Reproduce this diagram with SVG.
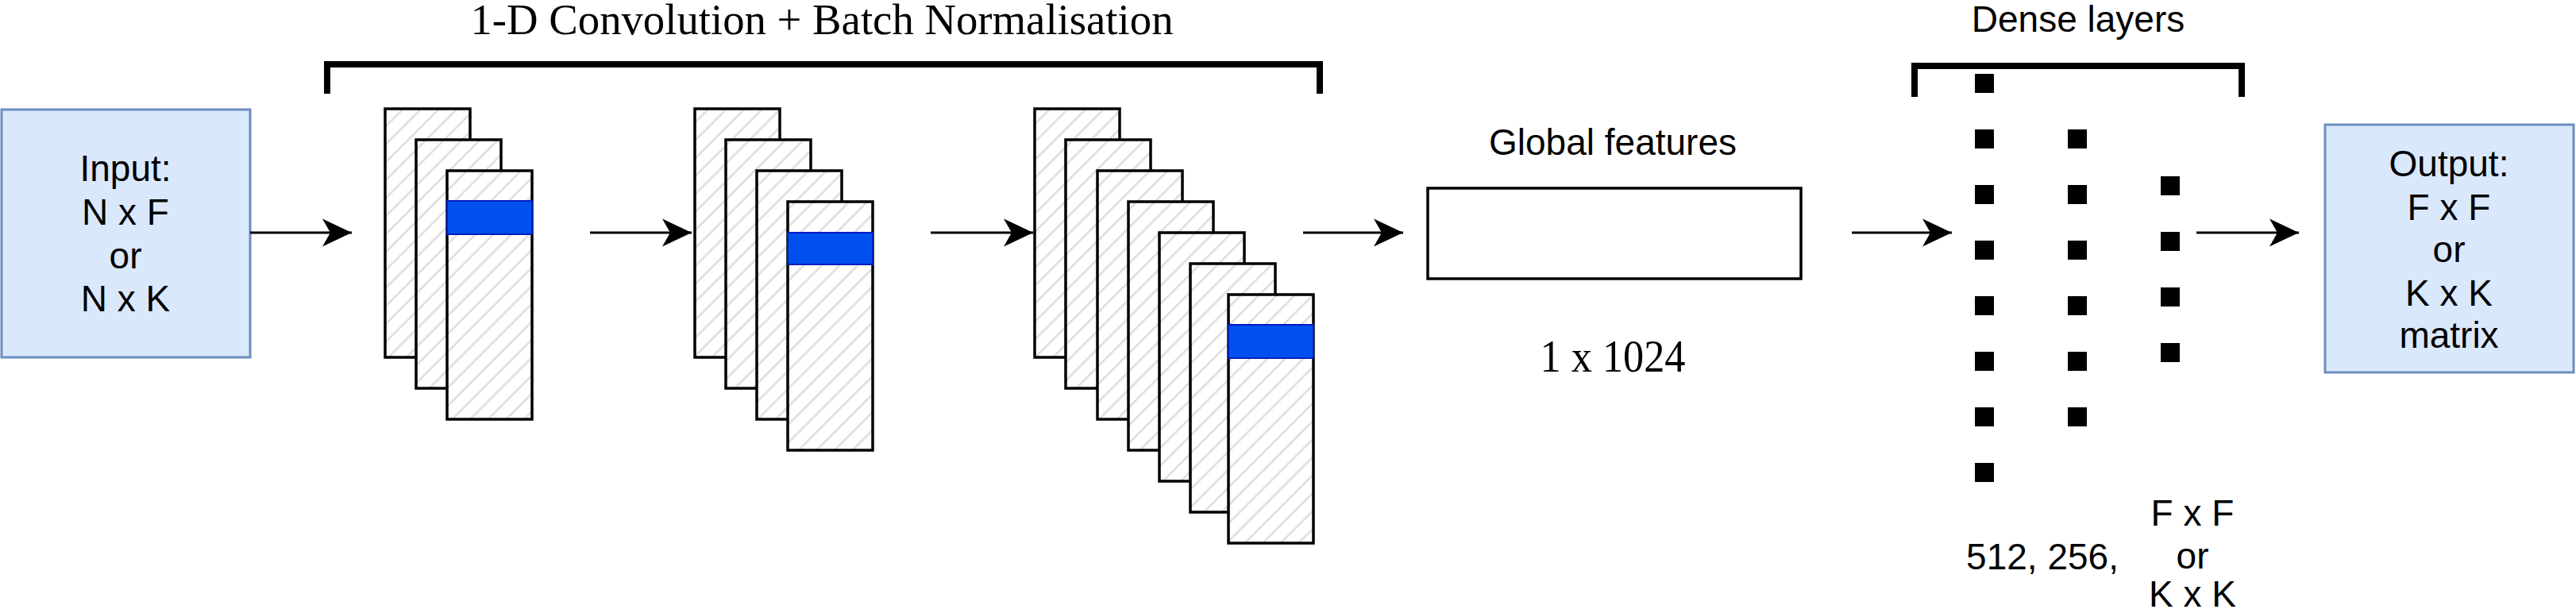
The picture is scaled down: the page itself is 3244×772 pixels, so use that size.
<svg xmlns="http://www.w3.org/2000/svg" width="3244" height="772" viewBox="0 0 3244 772">
<defs>
<style>
.t{font-family:"Liberation Sans",Arial,Helvetica,sans-serif;font-size:46px;fill:#000;text-anchor:middle}
.s{font-family:"Liberation Serif","Times New Roman",serif;fill:#000;text-anchor:middle}
.fm{fill:url(#hatch);stroke:#000;stroke-width:3.5}
.band{fill:#0050ef;stroke:#001DBC;stroke-width:2}
.io{fill:#dae8fc;stroke:#6c8ebf;stroke-width:3}
.box{fill:#fff;stroke:#000;stroke-width:3.5}
.conn{stroke:#000;stroke-width:3;fill:none;marker-end:url(#arrow)}
.br{fill:none;stroke:#000;stroke-width:8}
.dot{fill:#000}
</style>
<pattern id="hatch" width="16" height="16" patternUnits="userSpaceOnUse" patternTransform="rotate(45)">
<rect width="16" height="16" fill="#fff"/>
<line x1="8" y1="0" x2="8" y2="16" stroke="#dcdcdc" stroke-width="2.5"/>
</pattern>
<marker id="arrow" markerUnits="userSpaceOnUse" markerWidth="38" markerHeight="36" refX="37" refY="18" orient="auto" viewBox="0 0 38 36">
<path d="M37 18 L0 0.5 L10 18 L0 35.5 Z" fill="#000"/>
</marker>
</defs>
<rect width="3244" height="772" fill="#fff"/>

<g id="input">
<rect class="io" x="2" y="138" width="313" height="312"/>
<text class="t" x="158" y="228">Input:</text>
<text class="t" x="158" y="283">N x F</text>
<text class="t" x="158" y="338">or</text>
<text class="t" x="158" y="392">N x K</text>
</g>

<g id="conv-title">
<text class="s" x="1035" y="43" font-size="55" textLength="885" lengthAdjust="spacingAndGlyphs">1-D Convolution + Batch Normalisation</text>
<path class="br" d="M412 118 V81 H1662 V118"/>
</g>

<g id="conv-block-1">
<rect class="fm" x="485" y="137" width="107" height="313"/>
<rect class="fm" x="524" y="176" width="107" height="313"/>
<rect class="fm" x="563" y="215" width="107" height="313"/>
<rect class="band" x="563" y="253" width="107" height="42"/>
</g>

<g id="conv-block-2">
<rect class="fm" x="875" y="137" width="107" height="313"/>
<rect class="fm" x="914" y="176" width="107" height="313"/>
<rect class="fm" x="953" y="215" width="107" height="313"/>
<rect class="fm" x="992" y="254" width="107" height="313"/>
<rect class="band" x="992" y="293" width="107" height="40"/>
</g>

<g id="conv-block-3">
<rect class="fm" x="1303" y="137" width="107" height="313"/>
<rect class="fm" x="1342" y="176" width="107" height="313"/>
<rect class="fm" x="1382" y="215" width="107" height="313"/>
<rect class="fm" x="1421" y="254" width="107" height="313"/>
<rect class="fm" x="1460" y="293" width="107" height="313"/>
<rect class="fm" x="1499" y="332" width="107" height="313"/>
<rect class="fm" x="1547" y="371" width="107" height="313"/>
<rect class="band" x="1547" y="409" width="107" height="42"/>
</g>

<g id="global-features">
<text class="t" x="2031" y="195">Global features</text>
<rect class="box" x="1798" y="237" width="470" height="114"/>
<text class="s" x="2031" y="468" font-size="58" textLength="183" lengthAdjust="spacingAndGlyphs">1 x 1024</text>
</g>

<g id="dense-layers">
<text class="t" x="2617" y="40">Dense layers</text>
<path class="br" d="M2411 122 V83 H2823 V122"/>
<rect class="dot" x="2487" y="93" width="24" height="24"/>
<rect class="dot" x="2487" y="163" width="24" height="24"/>
<rect class="dot" x="2487" y="233" width="24" height="24"/>
<rect class="dot" x="2487" y="303" width="24" height="24"/>
<rect class="dot" x="2487" y="373" width="24" height="24"/>
<rect class="dot" x="2487" y="443" width="24" height="24"/>
<rect class="dot" x="2487" y="513" width="24" height="24"/>
<rect class="dot" x="2487" y="583" width="24" height="24"/>
<rect class="dot" x="2604" y="163" width="24" height="24"/>
<rect class="dot" x="2604" y="233" width="24" height="24"/>
<rect class="dot" x="2604" y="303" width="24" height="24"/>
<rect class="dot" x="2604" y="373" width="24" height="24"/>
<rect class="dot" x="2604" y="443" width="24" height="24"/>
<rect class="dot" x="2604" y="513" width="24" height="24"/>
<rect class="dot" x="2721" y="222" width="24" height="24"/>
<rect class="dot" x="2721" y="292" width="24" height="24"/>
<rect class="dot" x="2721" y="362" width="24" height="24"/>
<rect class="dot" x="2721" y="432" width="24" height="24"/>
<text class="t" x="2572" y="717">512, 256,</text>
<text class="t" x="2761" y="662">F x F</text>
<text class="t" x="2761" y="716">or</text>
<text class="t" x="2761" y="764">K x K</text>
</g>

<g id="output">
<rect class="io" x="2928" y="157" width="313" height="312"/>
<text class="t" x="3084" y="222">Output:</text>
<text class="t" x="3084" y="277">F x F</text>
<text class="t" x="3084" y="330">or</text>
<text class="t" x="3084" y="385">K x K</text>
<text class="t" x="3084" y="438">matrix</text>
</g>

<g id="connectors">
<path class="conn" d="M315 293 H443"/>
<path class="conn" d="M743 293 H871"/>
<path class="conn" d="M1172 293 H1301"/>
<path class="conn" d="M1641 293 H1767"/>
<path class="conn" d="M2332 293 H2458"/>
<path class="conn" d="M2766 293 H2895"/>
</g>
</svg>
